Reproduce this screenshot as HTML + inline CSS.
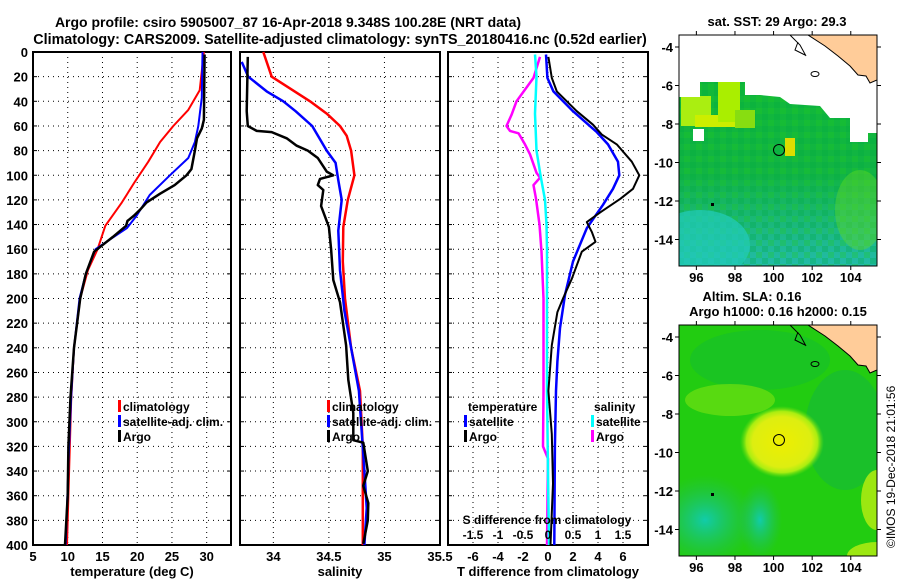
<!DOCTYPE html>
<html><head><meta charset="utf-8">
<style>
body{margin:0;background:#fff;}
svg{display:block;font-family:"Liberation Sans",sans-serif;font-weight:bold;}
</style></head>
<body>
<svg id="fig" width="900" height="580" viewBox="0 0 900 580" xmlns="http://www.w3.org/2000/svg">
<rect width="900" height="580" fill="#fff"/>
<text x="288" y="27" font-size="14" text-anchor="middle">Argo profile: csiro 5905007_87 16-Apr-2018 9.348S 100.28E (NRT data)</text>
<text x="340" y="44" font-size="14.3" text-anchor="middle">Climatology: CARS2009. Satellite-adjusted climatology: synTS_20180416.nc (0.52d earlier)</text>
<g id="panels"></g>
<g id="maps">
 <defs>
  <pattern id="noise" width="12" height="12" patternUnits="userSpaceOnUse">
   <rect width="6" height="6" fill="#22cc22" opacity="0.3"/>
   <rect x="6" y="6" width="6" height="6" fill="#00aa44" opacity="0.3"/>
  </pattern>
  <radialGradient id="blob" cx="0.5" cy="0.5" r="0.5">
   <stop offset="0" stop-color="#eeee00"/><stop offset="0.7" stop-color="#ddee11"/><stop offset="0.85" stop-color="#aaee11"/><stop offset="1" stop-color="#66dd11" stop-opacity="0"/>
  </radialGradient>
  <radialGradient id="teal" cx="0.5" cy="0.5" r="0.5">
   <stop offset="0" stop-color="#11ccaa"/><stop offset="1" stop-color="#22bb66" stop-opacity="0"/>
  </radialGradient>
  <linearGradient id="sstgrad" x1="0" y1="0" x2="0" y2="1">
   <stop offset="0" stop-color="#11bb33"/><stop offset="0.6" stop-color="#11b444"/><stop offset="1" stop-color="#22bbaa"/>
  </linearGradient>
  <clipPath id="clipA"><rect x="679" y="35" width="198" height="231"/></clipPath>
  <clipPath id="clipB"><rect x="679" y="325" width="198" height="231"/></clipPath>
 </defs>
 <g clip-path="url(#clipA)">
  <rect x="679" y="35" width="198" height="231" fill="url(#sstgrad)"/>
  <rect x="679" y="35" width="198" height="231" fill="url(#noise)"/>
  <ellipse cx="700" cy="245" rx="50" ry="35" fill="#22ccbb" opacity="0.7"/>
  <ellipse cx="860" cy="210" rx="25" ry="40" fill="#66dd22" opacity="0.4"/>
  <rect x="681" y="96" width="30" height="30" fill="#aaee11"/>
  <rect x="695" y="115" width="40" height="12" fill="#ccee00"/>
  <rect x="718" y="80" width="22" height="42" fill="#aaee00"/>
  <rect x="735" y="110" width="20" height="18" fill="#88dd11"/>
  <rect x="785" y="138" width="10" height="18" fill="#dddd00"/>
  <polygon fill="#fff" points="679,35 877,35 877,133 868,133 868,142 850,142 850,118 830,118 820,106 790,104 780,97 760,95 745,95 745,82 700,82 700,97 679,97"/>
  <rect x="693" y="129" width="11" height="12" fill="#fff"/>
  <polygon fill="#ffcc99" stroke="#000" stroke-width="1" points="808,35 877,35 877,80 870,83 866,76 858,75 850,66 838,56 825,46"/>
  <path d="M790,35 L800,45 L806,56 M798,42 L795,50 L805,55" stroke="#000" fill="none"/>
  <ellipse cx="815" cy="74" rx="4" ry="2.5" fill="none" stroke="#000"/>
  <circle cx="779" cy="150" r="5.5" fill="none" stroke="#000"/>
  <rect x="711" y="203" width="3" height="3" fill="#000"/>
 </g>
 <rect x="679" y="35" width="198" height="231" fill="none" stroke="#000"/>
 <g clip-path="url(#clipB)">
  <rect x="679" y="325" width="198" height="231" fill="#22cc11"/>
  <ellipse cx="760" cy="360" rx="70" ry="30" fill="#11bb33" opacity="0.5"/>
  <ellipse cx="730" cy="400" rx="45" ry="16" fill="#66dd11" opacity="0.8"/>
  <ellipse cx="705" cy="520" rx="50" ry="45" fill="url(#teal)"/>
  <ellipse cx="760" cy="520" rx="22" ry="38" fill="url(#teal)"/>
  <ellipse cx="845" cy="430" rx="40" ry="60" fill="#11b444" opacity="0.5"/>
  <ellipse cx="782" cy="442" rx="42" ry="36" fill="url(#blob)"/>
  <ellipse cx="877" cy="500" rx="16" ry="30" fill="#bbee11" opacity="0.8"/>
  <ellipse cx="877" cy="556" rx="30" ry="14" fill="#bbee11" opacity="0.8"/>
  <polygon fill="#ffcc99" stroke="#000" stroke-width="1" points="808,325 877,325 877,370 870,373 866,366 858,365 850,356 838,346 825,336"/>
  <path d="M790,325 L800,335 L806,346 M798,332 L795,340 L805,345" stroke="#000" fill="none"/>
  <ellipse cx="815" cy="364" rx="4" ry="2.5" fill="none" stroke="#000"/>
  <circle cx="779" cy="440" r="5.5" fill="none" stroke="#000"/>
  <rect x="711" y="493" width="3" height="3" fill="#000"/>
 </g>
 <rect x="679" y="325" width="198" height="231" fill="none" stroke="#000"/>
 <text x="777" y="26" font-size="13" text-anchor="middle">sat. SST: 29 Argo: 29.3</text>
 <text x="752" y="301" font-size="13" text-anchor="middle">Altim. SLA: 0.16</text>
 <text x="778" y="316" font-size="13" text-anchor="middle">Argo h1000: 0.16 h2000: 0.15</text>
 <text transform="translate(895,548) rotate(-90)" font-size="12" font-weight="normal">©IMOS 19-Dec-2018 21:01:56</text>
 <g id="mapticks"></g>
</g>
</svg>
<script>
// ---- data (depth in m) ----
const depthTempClim = [0,31,47,60,73,89,105,122,141,160,177,200,240,282,340,400];
const tempClim      = [29.6,29.0,27.35,25.2,23.3,21.6,19.7,17.8,15.4,14.3,12.9,11.8,10.9,10.5,10.2,9.9];
const depthTempSat  = [0,37,60,73,86,100,116,133,143,160,180,200,240,280,320,400];
const tempSat       = [29.4,29.3,28.8,28.3,27.35,24.7,21.8,19.9,18.5,14.0,12.6,11.7,10.9,10.5,10.2,9.7];
const depthTempArgo = [2,55,62,70,80,95,100,108,115,122,128,133,137,141,150,162,180,200,240,280,320,360,400];
const tempArgo      = [29.7,29.6,29.3,28.6,28.3,27.8,27.1,25.4,23.3,21.35,20.4,19.5,18.6,18.4,16.5,13.8,12.6,11.8,10.9,10.4,10.1,10.0,9.6];

const depthSalClim = [0,20,40,50,60,68,80,100,120,142,170,200,240,275,320,400];
const salClim      = [33.91,33.985,34.33,34.48,34.6,34.66,34.70,34.73,34.67,34.63,34.625,34.645,34.70,34.78,34.805,34.805];
const depthSalSat  = [8,20,32,40,48,60,80,90,104,120,145,177,210,275,340,370,400];
const salSat       = [33.715,33.775,33.94,34.09,34.2,34.35,34.48,34.56,34.585,34.615,34.585,34.6,34.64,34.77,34.82,34.84,34.82];
const depthSalArgo = [4,48,60,64,65,70,76,80,86,97,100,103,108,112,125,142,160,185,203,238,266,293,315,317,340,352,366,380,399];
const salArgo      = [33.77,33.76,33.77,33.85,33.985,34.12,34.21,34.31,34.40,34.48,34.54,34.42,34.40,34.45,34.43,34.5,34.52,34.54,34.6,34.655,34.675,34.72,34.72,34.81,34.85,34.81,34.855,34.85,34.81];

const depthDT = [4,21,32,48,59,67,75,89,100,111,119,130,138,146,154,162,184,200,211,238,275,310,350,400];
const dTArgo  = [0.03,0.3,0.7,2.3,3.6,4.3,5.5,6.7,7.3,6.8,5.8,4.2,3.1,3.5,3.8,2.7,1.9,1.2,0.75,0.3,0.03,0.3,0.4,0.2];
const depthDTs = [2,21,32,48,65,75,89,100,111,124,143,170,197,224,251,275,320,400];
const dTSat    = [-0.16,-0.05,0.43,2.0,3.9,4.8,5.6,5.7,5.2,4.4,3.1,2.0,1.36,0.96,0.75,0.64,0.55,0.5];
const depthDS = [4,21,40,51,60,64,66,75,83,98,102,108,119,140,162,200,275,320,330,400];
const dSArgo  = [-0.16,-0.29,-0.63,-0.73,-0.83,-0.76,-0.59,-0.46,-0.36,-0.23,-0.16,-0.29,-0.24,-0.17,-0.13,-0.09,-0.09,-0.1,0.0,-0.02];
const depthDSs = [2,20,50,80,100,120,140,160,200,275,340,400];
const dSSat    = [-0.26,-0.23,-0.26,-0.23,-0.15,-0.06,-0.03,-0.02,-0.02,-0.02,0.0,0.02];

const depthTicks = [0,20,40,60,80,100,120,140,160,180,200,220,240,260,280,300,320,340,360,380,400];
const tempTicks = [5,10,15,20,25,30];
const salTicks = [34,34.5,35,35.5];
const salTickLabels = ["34","34.5","35","35.5"];
const dTTicks = [-6,-4,-2,0,2,4,6];
const dSTicks = [-1.5,-1,-0.5,0,0.5,1,1.5];
const lonTicks = [96,98,100,102,104];
const latTicks = [-4,-6,-8,-10,-12,-14];

// ---- helpers ----
const NS = "http://www.w3.org/2000/svg";
const Y0 = 52, Y1 = 545;
function yD(d){ return Y0 + d*(Y1-Y0)/400; }
function mk(tag, attrs, parent){ const e=document.createElementNS(NS,tag); for(const k in attrs) e.setAttribute(k,attrs[k]); parent.appendChild(e); return e; }
const root = document.getElementById('panels');

function panel(name, x0, x1, vmin, vmax, ticks, labels, xtitle, showY){
  const g = mk('g',{},root);
  
  
  const sx = v => x0 + (v-vmin)*(x1-x0)/(vmax-vmin);
  depthTicks.forEach((d,i)=>{
    const y=yD(d);
    if(i>0 && i<depthTicks.length-1){
      const l=mk('line',{x1:x0,x2:x1,y1:y,y2:y,stroke:'#000','stroke-width':1,'stroke-dasharray':'1 4'},g);
      
      
    }
    mk('line',{x1:x0,x2:x0+4,y1:y,y2:y,stroke:'#000'},g);
    mk('line',{x1:x1-4,x2:x1,y1:y,y2:y,stroke:'#000'},g);
    if(showY){
      const t=mk('text',{x:28,y:y+5,'font-size':13,'text-anchor':'end'},g);
      t.textContent=d;
      
      
    }
  });
  ticks.forEach((v,i)=>{
    const x=sx(v);
    if(x>x0+1 && x<x1-1){
      const l=mk('line',{x1:x,x2:x,y1:Y0,y2:Y1,stroke:'#000','stroke-dasharray':'1 4'},g);
      
      
    }
    const t=mk('text',{x:x,y:561,'font-size':13,'text-anchor':'middle'},g);
    t.textContent=labels[i];
    
    
  });
  mk('rect',{x:x0,y:Y0,width:x1-x0,height:Y1-Y0,fill:'none',stroke:'#000','stroke-width':2},g);
  const tt=mk('text',{x:(x0+x1)/2,y:576,'font-size':13,'text-anchor':'middle'},g);
  tt.textContent=xtitle;
  
  
  return {g,sx};
}
function series(p, depths, vals, color, w, name){
  const pts = depths.map((d,i)=>p.sx(vals[i]).toFixed(1)+','+yD(d).toFixed(1)).join(' ');
  const pl = mk('polyline',{points:pts,fill:'none',stroke:color,'stroke-width':w,'stroke-linejoin':'round'},p.g);
  
  
}
function legend(g, x, y, color, label){
  mk('rect',{x:x,y:y-10,width:3,height:12,fill:color},g);
  const t=mk('text',{x:x+5,y:y+1,'font-size':12},g);
  t.textContent=label;
  
  
}

// Panel 1
const p1 = panel('temperature-panel',33,231,5,33.5,tempTicks,tempTicks.map(String),'temperature (deg C)',true);
series(p1,depthTempClim,tempClim,'#f00',2,'temperature-climatology-line');
series(p1,depthTempSat,tempSat,'#00f',2,'temperature-satellite-line');
series(p1,depthTempArgo,tempArgo,'#000',2.5,'temperature-argo-line');
legend(p1.g,118,410,'#f00','climatology');
legend(p1.g,118,425,'#00f','satellite-adj. clim.');
legend(p1.g,118,440,'#000','Argo');

// Panel 2
const p2 = panel('salinity-panel',240,440,33.7,35.5,salTicks,salTickLabels,'salinity',false);
series(p2,depthSalClim,salClim,'#f00',2.5,'salinity-climatology-line');
series(p2,depthSalSat,salSat,'#00f',2.5,'salinity-satellite-line');
series(p2,depthSalArgo,salArgo,'#000',2.5,'salinity-argo-line');
legend(p2.g,327,410,'#f00','climatology');
legend(p2.g,327,425,'#00f','satellite-adj. clim.');
legend(p2.g,327,440,'#000','Argo');

// Panel 3
const p3 = panel('difference-panel',448,648,-8,8,dTTicks,dTTicks.map(String),'T difference from climatology',false);
const p3s = {g:p3.g, sx: v => p3.sx(v*4)};
series(p3s,depthDS,dSArgo,'#f0f',2.5,'salinity-diff-argo-line');
series(p3s,depthDSs,dSSat,'#0ff',2.5,'salinity-diff-satellite-line');
series(p3,depthDTs,dTSat,'#00f',2.5,'temperature-diff-satellite-line');
series(p3,depthDT,dTArgo,'#000',2,'temperature-diff-argo-line');
{
  const t=mk('text',{x:468,y:411,'font-size':12},p3.g); t.textContent='temperature';
   
  const t2=mk('text',{x:594,y:411,'font-size':12},p3.g); t2.textContent='salinity';
   
  legend(p3.g,464,425,'#00f','satellite');
  legend(p3.g,464,440,'#000','Argo');
  legend(p3.g,591,425,'#0ff','satellite');
  legend(p3.g,591,440,'#f0f','Argo');
  const s=mk('text',{x:547,y:524,'font-size':12,'text-anchor':'middle'},p3.g); s.textContent='S difference from climatology';
   
  dSTicks.forEach(v=>{
    const l=mk('text',{x:p3s.sx(v),y:539,'font-size':12,'text-anchor':'middle'},p3.g); l.textContent=String(v);
     
  });
}

// map ticks
const mt=document.getElementById('mapticks');
[[35,47,266],[325,337,556]].forEach(([top,lat4,bot])=>{
  lonTicks.forEach(v=>{
    const x=679+(v-95.1)*19.3;
    mk('line',{x1:x,x2:x,y1:top-4,y2:top,stroke:'#000'},mt);
    mk('line',{x1:x,x2:x,y1:bot,y2:bot+4,stroke:'#000'},mt);
    const t=mk('text',{x:x,y:bot+16,'font-size':13,'text-anchor':'middle'},mt); t.textContent=v;
     
  });
  latTicks.forEach(v=>{
    const y=lat4+(-4-v)*19.25;
    mk('line',{x1:675,x2:679,y1:y,y2:y,stroke:'#000'},mt);
    mk('line',{x1:877,x2:881,y1:y,y2:y,stroke:'#000'},mt);
    const t=mk('text',{x:673,y:y+5,'font-size':13,'text-anchor':'end'},mt); t.textContent=v;
     
  });
});
</script>
</body></html>
